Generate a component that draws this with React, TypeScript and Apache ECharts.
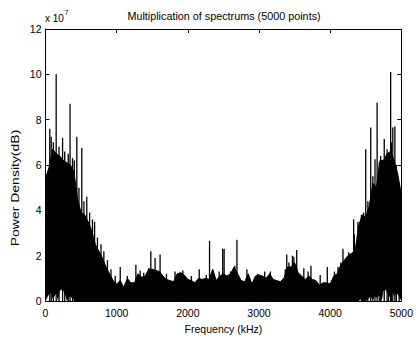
import React, { useEffect, useRef } from "react";
import * as echarts from "echarts";

// Values in units of 1e7 (axis shows "x 10^7")
const xTicks = [0, 1000, 2000, 3000, 4000, 5000];
const yTicks = [0, 2, 4, 6, 8, 10, 12];

// Solid body envelope, one value every 50 kHz from 0 to 5000 kHz
const bodyStepKHz = 50;
const bodyLevel = [
  5.4, 5.9, 6.7, 6.5, 6.4, 6.2, 6.1, 6.0, 5.7, 4.5,
  3.9, 3.8, 3.5, 3.1, 2.5, 2.2, 1.9, 1.5, 1.2, 0.9,
  0.75, 0.9, 0.6, 1.0, 0.8, 0.8, 1.2, 1.05, 1.1, 1.4,
  1.4, 1.35, 1.3, 1.1, 0.95, 0.9, 0.85, 1.2, 1.25, 1.15,
  0.95, 0.9, 0.8, 1.0, 0.95, 1.0, 0.95, 1.4, 0.9, 1.1,
  1.2, 1.1, 1.2, 1.5, 1.2, 0.9, 0.85, 1.2, 0.75, 1.1,
  1.15, 1.1, 1.0, 1.2, 0.95, 0.9, 0.85, 1.0, 1.5, 1.5,
  1.7, 1.25, 1.1, 0.95, 1.1, 0.95, 0.9, 0.7, 0.8, 0.8,
  0.75, 1.1, 1.2, 1.6, 1.8, 2.0, 2.1, 2.2, 3.3, 3.8,
  3.7, 4.2, 5.2, 5.0, 6.2, 6.2, 6.5, 6.6, 6.2, 5.6,
  4.7,
];

// Spikes rising above the body
const spikeFreq = [
  60, 80, 110, 150, 190, 240, 270, 320, 345, 380, 405, 440, 470, 510, 540, 580,
  620, 660, 690, 730, 780, 820, 870, 920, 980, 1050, 1150, 1270, 1330, 1380,
  1450, 1480, 1540, 1610, 1700, 1820, 1930, 2050, 2160, 2260, 2305, 2440, 2490,
  2510, 2600, 2660, 2690, 2830, 2980, 3080, 3160, 3370, 3390, 3420, 3470, 3490,
  3530, 3630, 3690, 3730, 3860, 3960, 4060, 4110, 4150, 4180, 4260, 4290, 4330,
  4340, 4390, 4440, 4470, 4500, 4530, 4570, 4600, 4630, 4660, 4690, 4710, 4760,
  4800, 4820, 4850, 4860, 4880, 4910, 4930, 4970,
];
const spikeLevel = [
  7.6, 7.25, 7.0, 10.0, 6.8, 7.2, 6.6, 6.5, 8.7, 6.3, 6.2, 7.25, 5.0, 6.75, 4.4, 4.6,
  3.9, 3.6, 3.5, 2.8, 2.5, 2.2, 1.8, 1.4, 1.1, 1.5, 1.1, 1.6, 1.35, 1.25,
  1.45, 2.2, 1.9, 2.05, 1.2, 1.3, 1.35, 1.1, 1.4, 1.15, 2.65, 1.3, 2.3,
  2.3, 1.3, 1.55, 2.7, 1.4, 1.2, 1.3, 1.3, 1.4, 2.05, 1.7, 2.0, 1.95,
  2.25, 1.45, 1.3, 1.55, 1.15, 1.5, 1.3, 1.5, 1.7, 2.3, 2.15, 2.1, 3.6,
  2.95, 3.5, 3.8, 3.9, 6.7, 4.4, 7.65, 5.5, 6.25, 8.75, 6.1, 6.4, 7.15,
  6.7, 6.4, 10.1, 7.0, 7.65, 7.7, 6.0, 5.2,
];

// Lower floor of the trace (white gaps near the bottom)
const floorLeftFreq = [0, 25, 50, 75, 100, 125, 150, 175, 200, 225, 250, 275, 300, 325, 350, 375, 400, 425];
const floorLeftLevel = [0, 0.15, 0.3, 0.35, 0.1, 0.2, 0.35, 0.0, 0.45, 0.5, 0.45, 0.3, 0.0, 0.15, 0.2, 0.12, 0.05, 0];
const floorRightFreq = [4400, 4425, 4450, 4500, 4525, 4550, 4575, 4600, 4625, 4650, 4675, 4700, 4725, 4750, 4775, 4800, 4825, 4850, 4875, 4900, 4925, 4950, 4975, 5000];
const floorRightLevel = [0, 0.08, 0, 0, 0.05, 0.15, 0.15, 0.05, 0.2, 0.15, 0.2, 0.25, 0.0, 0.45, 0.5, 0.4, 0.1, 0.35, 0.4, 0.2, 0.35, 0.3, 0.15, 0];

const FONT = "Liberation Sans, Arial, Helvetica, sans-serif";

export default function App() {
  const ref = useRef<HTMLDivElement>(null);
  useEffect(() => {
    if (!ref.current) return;
    const chart = echarts.init(ref.current, undefined, { renderer: "svg" });
    const body = bodyLevel.map((v, i) => [i * bodyStepKHz, v]);
    const spikes = spikeFreq.map((f, i) => [f, spikeLevel[i]]);
    const floorL = floorLeftFreq.map((f, i) => [f, floorLeftLevel[i]]);
    const floorR = floorRightFreq.map((f, i) => [f, floorRightLevel[i]]);
    const axisLine = { show: true, onZero: false, lineStyle: { color: "#000", width: 1 } };
    const axisTick = { show: true, inside: true, length: 4, lineStyle: { color: "#000", width: 1 } };
    chart.setOption({
      animation: false,
      backgroundColor: "#fff",
      grid: { left: 45.5, right: 12.3, top: 29, bottom: 30, containLabel: false },
      xAxis: [
        {
          type: "value",
          position: "bottom",
          min: xTicks[0],
          max: xTicks[xTicks.length - 1],
          interval: 1000,
          axisLine,
          axisTick,
          splitLine: { show: false },
          axisLabel: {
            color: "#000",
            fontSize: 10.5,
            fontFamily: FONT,
            margin: 6,
            formatter: (v: number) => String(v),
          },
          name: "Frequency (kHz)",
          nameLocation: "middle",
          nameGap: 22,
          nameTextStyle: { color: "#000", fontSize: 10.5, fontFamily: FONT },
        },
        {
          type: "value",
          position: "top",
          min: xTicks[0],
          max: xTicks[xTicks.length - 1],
          interval: 1000,
          axisLine,
          axisTick,
          splitLine: { show: false },
          axisLabel: { show: false },
        },
      ],
      yAxis: [
        {
          type: "value",
          position: "left",
          min: yTicks[0],
          max: yTicks[yTicks.length - 1],
          interval: 2,
          axisLine,
          axisTick,
          splitLine: { show: false },
          axisLabel: { color: "#000", fontSize: 10.5, fontFamily: FONT, margin: 4 },
        },
        {
          type: "value",
          position: "right",
          min: yTicks[0],
          max: yTicks[yTicks.length - 1],
          interval: 2,
          axisLine,
          axisTick,
          splitLine: { show: false },
          axisLabel: { show: false },
        },
      ],
      graphic: [
        {
          type: "text",
          x: 224,
          y: 16,
          style: {
            text: "Multiplication of spectrums (5000 points)",
            fill: "#000",
            font: `10.8px ${FONT}`,
            textAlign: "center",
            textVerticalAlign: "middle",
          },
        },
        {
          type: "text",
          x: 45,
          y: 18,
          style: { text: "x 10", fill: "#000", font: `10px ${FONT}`, textAlign: "left", textVerticalAlign: "middle" },
        },
        {
          type: "text",
          x: 64.5,
          y: 12,
          style: { text: "7", fill: "#000", font: `7px ${FONT}`, textAlign: "left", textVerticalAlign: "middle" },
        },
        {
          type: "text",
          x: 16,
          y: 188,
          rotation: Math.PI / 2,
          scaleX: 1.4,
          style: {
            text: "Power Density(dB)",
            fill: "#000",
            font: `10px ${FONT}`,
            textAlign: "center",
            textVerticalAlign: "middle",
          },
        },
      ],
      series: [
        {
          type: "line",
          data: body,
          symbol: "none",
          lineStyle: { color: "#000", width: 1 },
          areaStyle: { color: "#000", opacity: 1 },
          z: 2,
        },
        {
          type: "line",
          data: floorL,
          symbol: "none",
          lineStyle: { width: 0, color: "#fff" },
          areaStyle: { color: "#fff", opacity: 1 },
          z: 3,
        },
        {
          type: "line",
          data: floorR,
          symbol: "none",
          lineStyle: { width: 0, color: "#fff" },
          areaStyle: { color: "#fff", opacity: 1 },
          z: 3,
        },
        {
          type: "bar",
          data: spikes,
          barWidth: 1.3,
          itemStyle: { color: "#000" },
          z: 4,
        },
      ],
    });
    return () => chart.dispose();
  }, []);
  return (
    <div
      ref={ref}
      style={{ position: "fixed", left: 0, top: 0, width: 416, height: 339, background: "#fff" }}
    />
  );
}
